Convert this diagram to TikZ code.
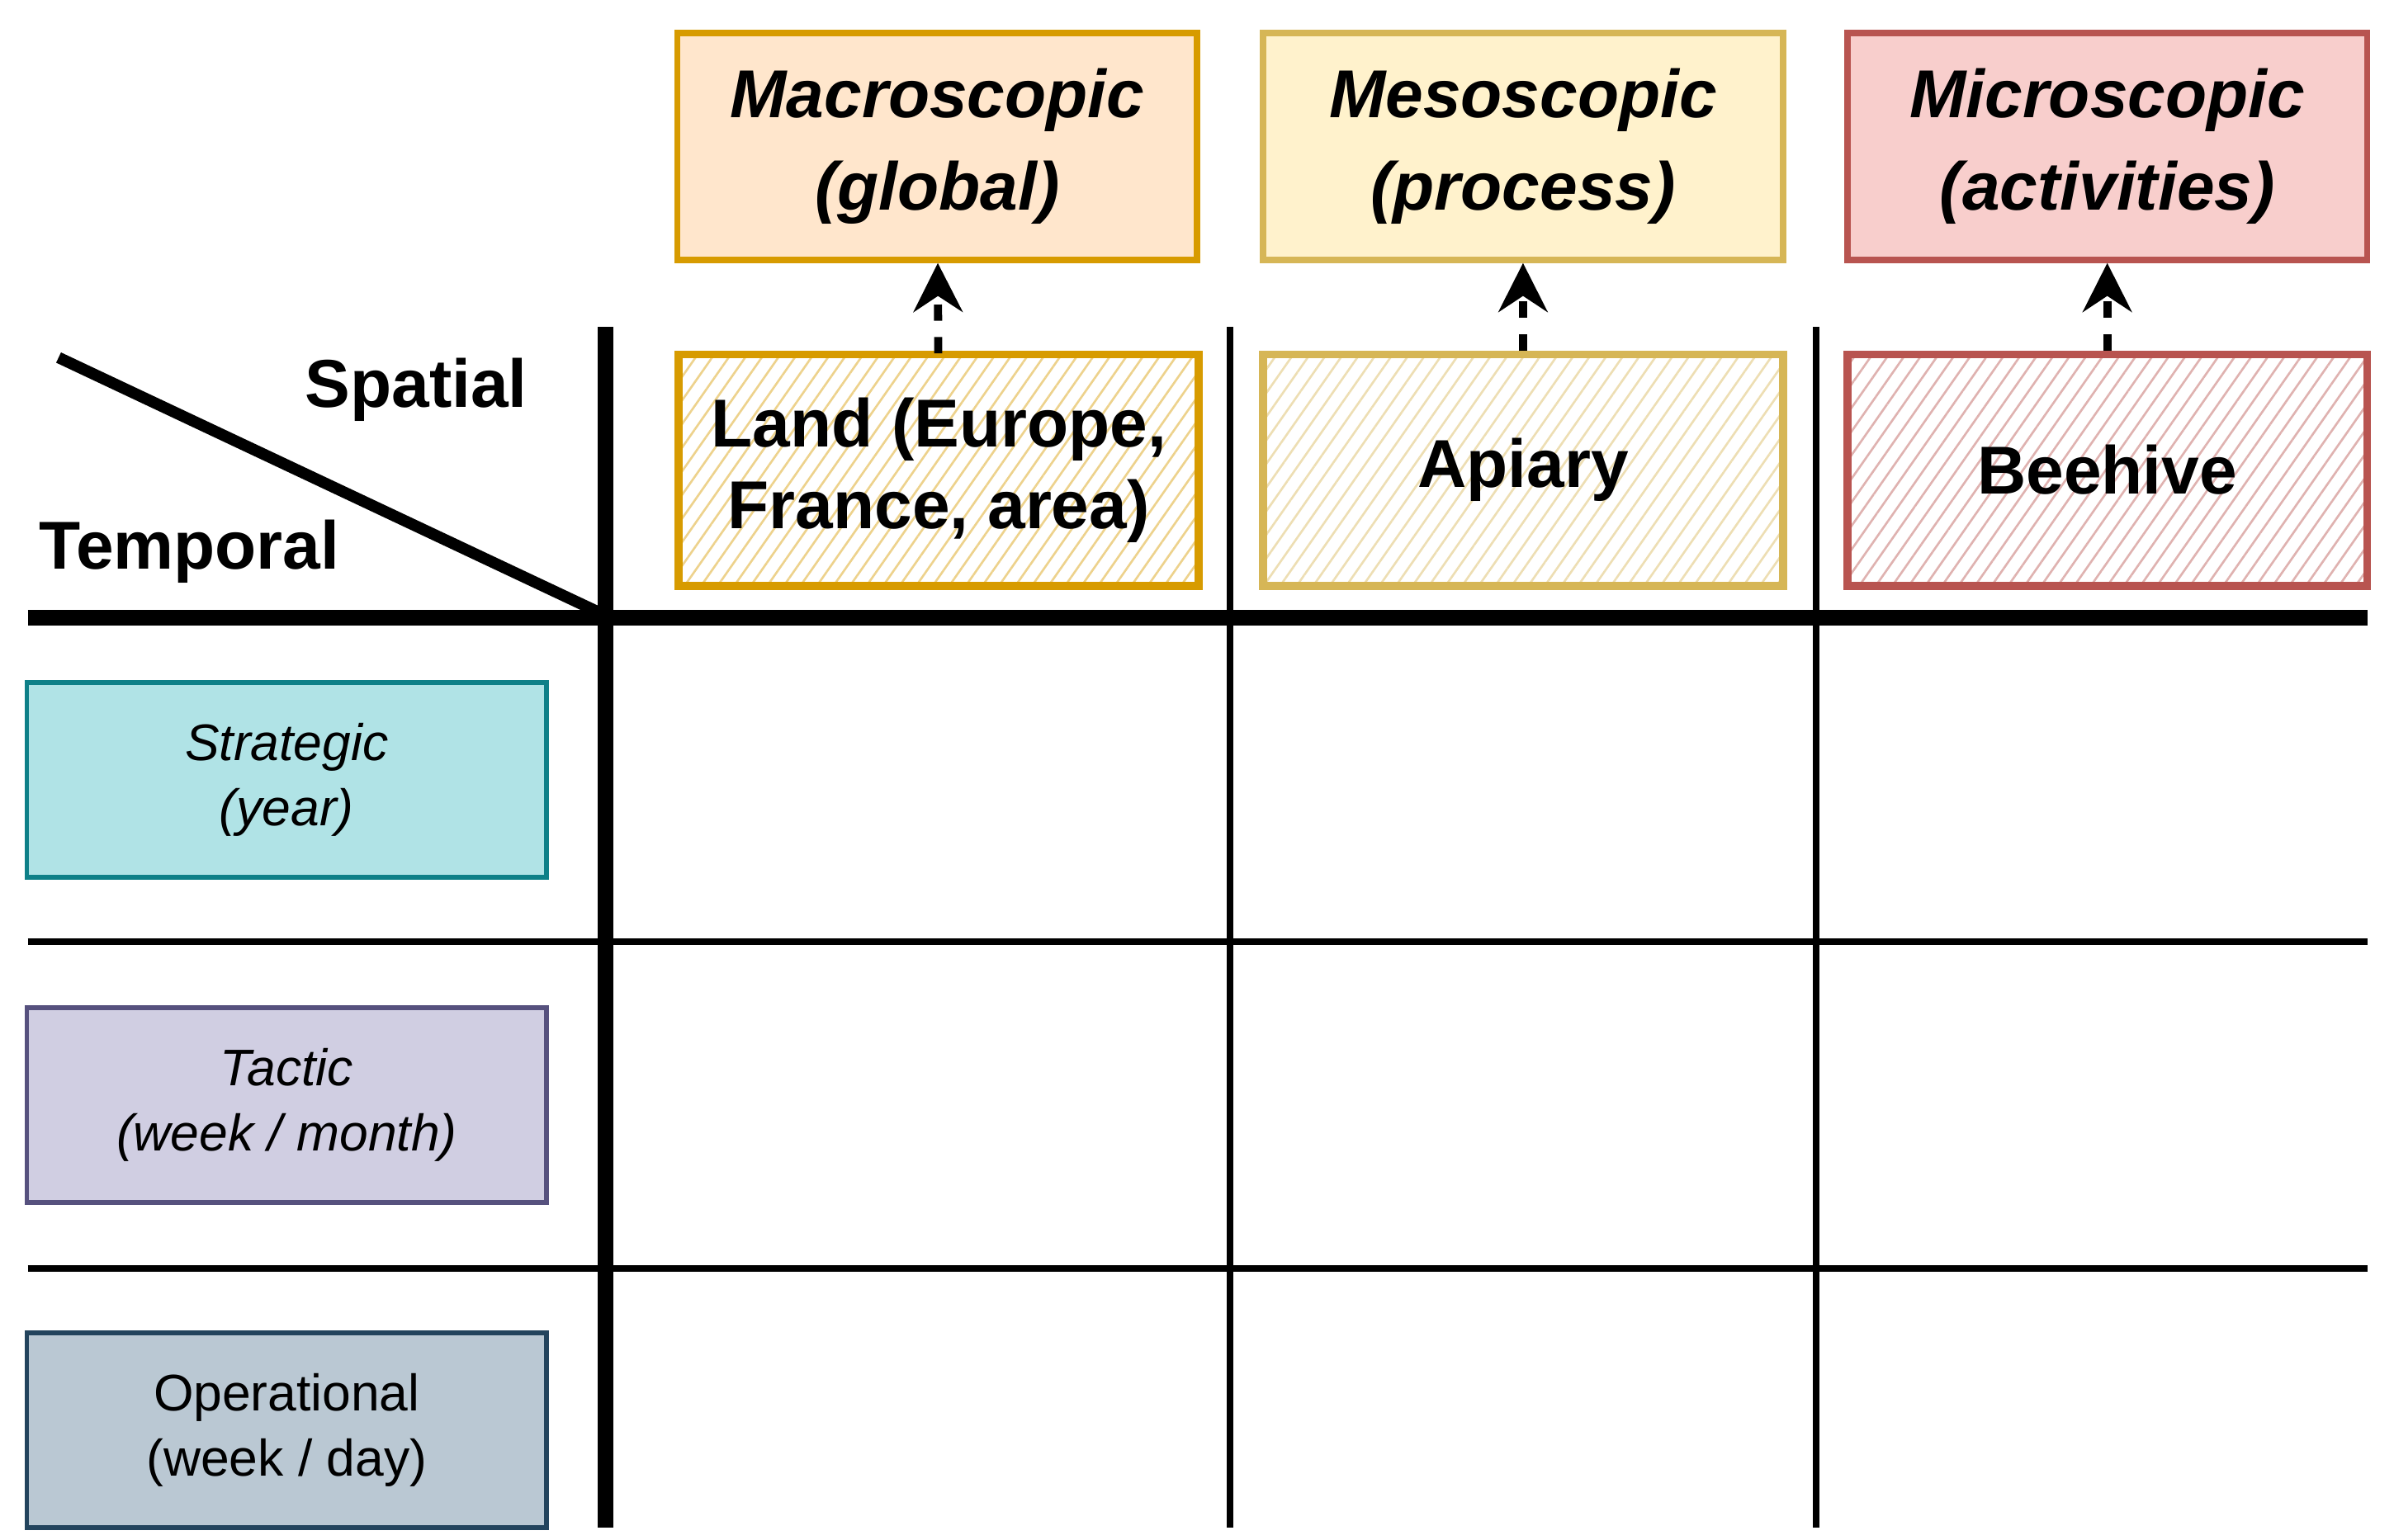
\documentclass[tikz,border=0pt]{standalone}
\usepackage{fontspec}
\setmainfont{Liberation Sans}
\usetikzlibrary{patterns.meta,arrows.meta}
\definecolor{maF}{HTML}{FFE6CC}\definecolor{maD}{HTML}{D79B00}
\definecolor{meF}{HTML}{FFF2CC}\definecolor{meD}{HTML}{D6B656}
\definecolor{miF}{HTML}{F8CECC}\definecolor{miD}{HTML}{B85450}
\definecolor{stF}{HTML}{B0E3E6}\definecolor{stD}{HTML}{0E8088}
\definecolor{taF}{HTML}{D0CEE2}\definecolor{taD}{HTML}{56517E}
\definecolor{opF}{HTML}{BAC8D3}\definecolor{opD}{HTML}{23445D}
\tikzset{
 topbox/.style={draw=#1D,fill=#1F,line width=1.2pt,minimum width=3.37cm,minimum height=1.47cm,align=center,font=\fontsize{12.5}{17}\selectfont\bfseries\itshape,inner sep=0pt},
 hatchbox/.style={draw=#1D,line width=1.5pt,minimum width=3.37cm,minimum height=1.5cm,align=center,font=\fontsize{12.5}{15}\selectfont\bfseries,inner sep=0pt,pattern={Lines[angle=55,distance=2.5pt,line width=0.4pt]},pattern color=#1D!45},
 leftbox/.style={draw=#1D,fill=#1F,line width=0.9pt,minimum width=3.37cm,minimum height=1.26cm,align=center,font=\fontsize{9.5}{12}\selectfont,inner sep=0pt},
 dasharrow/.style={-{Stealth[length=9pt,width=9pt]},dashed,line width=1.5pt},
 thickline/.style={line width=2.9pt},
 thinline/.style={line width=1.2pt}
}
\begin{document}
\begin{tikzpicture}[x=0.01cm,y=-0.01cm]
\useasboundingbox (0,0) rectangle (1553,999);
\node[topbox=ma] (ma) at (608,95) {Macroscopic\\(global)};
\node[topbox=me] (me) at (988,95) {Mesoscopic\\(process)};
\node[topbox=mi] (mi) at (1367,95) {Microscopic\\(activities)};
\node[hatchbox=ma] (la) at (609,305) {Land (Europe,\\France, area)};
\node[hatchbox=me] (ap) at (988,305) {Apiary};
\node[hatchbox=mi] (be) at (1367,305) {Beehive};
\draw[dasharrow] (la) -- (ma);
\draw[dasharrow] (ap) -- (me);
\draw[dasharrow] (be) -- (mi);
\node[leftbox=st] (st) at (186,506) {\itshape Strategic\\\itshape (year)};
\node[leftbox=ta] (ta) at (186,717) {\itshape Tactic\\\itshape (week / month)};
\node[leftbox=op] (op) at (186,928) {Operational\\(week / day)};
\coordinate (v1t) at (393,212); \coordinate (v1b) at (393,991);
\coordinate (v2t) at (798,212); \coordinate (v2b) at (798,991);
\coordinate (v3t) at (1178,212); \coordinate (v3b) at (1178,991);
\coordinate (h1l) at (18,401); \coordinate (h1r) at (1536,401);
\coordinate (h2l) at (18,611); \coordinate (h2r) at (1536,611);
\coordinate (h3l) at (18,823); \coordinate (h3r) at (1536,823);
\coordinate (d1) at (38,232); \coordinate (d2) at (390,398);
\draw[thickline] (v1t) -- (v1b);
\draw[thinline] (v2t) -- (v2b);
\draw[thinline] (v3t) -- (v3b);
\draw[thickline] (h1l) -- (h1r);
\draw[thinline] (h2l) -- (h2r);
\draw[thinline] (h3l) -- (h3r);
\draw[line width=2.1pt] (d1) -- (d2);
\node[font=\fontsize{12.5}{15}\selectfont\bfseries] (sp) at (270,253) {Spatial};
\node[font=\fontsize{12.5}{15}\selectfont\bfseries] (te) at (123,358) {Temporal};
\end{tikzpicture}
\end{document}
